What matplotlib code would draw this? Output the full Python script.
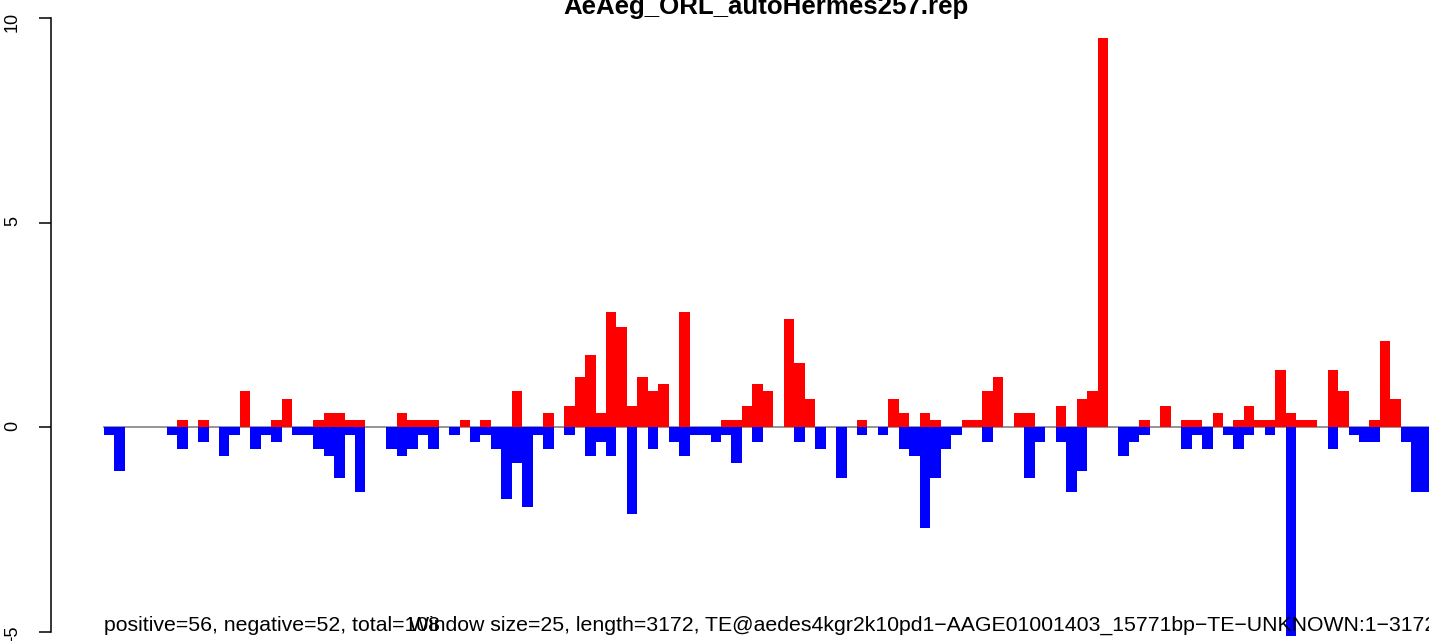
"""Strand-split coverage barplot for one TE consensus (25 bp windows)."""

import numpy as np
import matplotlib
matplotlib.use("Agg")
import matplotlib.pyplot as plt

plt.rcParams["font.family"] = ["Liberation Sans", "DejaVu Sans"]

TITLE = "AeAeg_ORL_autoHermes257.rep"
LEFT_NOTE = "positive=56, negative=52, total=108"
RIGHT_NOTE = ("Window size=25, length=3172, "
              "TE@aedes4kgr2k10pd1\u2212AAGE01001403_15771bp\u2212TE\u2212UNKNOWN:1\u22123172")

# one value per 25 bp window (127 windows)
positive = [
    0, 0, 0, 0, 0, 0, 0, 0.18, 0, 0.18,
    0, 0, 0, 0.88, 0, 0, 0.18, 0.70, 0, 0,
    0.18, 0.35, 0.35, 0.18, 0.18, 0, 0, 0, 0.35, 0.18,
    0.18, 0.18, 0, 0, 0.18, 0, 0.18, 0, 0, 0.88,
    0, 0, 0.35, 0, 0.53, 1.23, 1.76, 0.35, 2.82, 2.46,
    0.53, 1.23, 0.88, 1.06, 0, 2.82, 0, 0, 0, 0.18,
    0.18, 0.53, 1.06, 0.88, 0, 2.64, 1.58, 0.70, 0, 0,
    0, 0, 0.18, 0, 0, 0.70, 0.35, 0, 0.35, 0.18,
    0, 0, 0.18, 0.18, 0.88, 1.23, 0, 0.35, 0.35, 0,
    0, 0.53, 0, 0.70, 0.88, 9.50, 0, 0, 0, 0.18,
    0, 0.53, 0, 0.18, 0.18, 0, 0.35, 0, 0.18, 0.53,
    0.18, 0.18, 1.41, 0.35, 0.18, 0.18, 0, 1.41, 0.88, 0,
    0, 0.18, 2.11, 0.70, 0, 0, 0,
]
negative = [
    -0.18, -1.06, 0, 0, 0, 0, -0.18, -0.53, 0, -0.35,
    0, -0.70, -0.18, 0, -0.53, -0.18, -0.35, 0, -0.18, -0.18,
    -0.53, -0.70, -1.23, -0.18, -1.58, 0, 0, -0.53, -0.70, -0.53,
    -0.18, -0.53, 0, -0.18, 0, -0.35, -0.18, -0.53, -1.76, -0.88,
    -1.94, -0.18, -0.53, 0, -0.18, 0, -0.70, -0.35, -0.70, 0,
    -2.11, 0, -0.53, 0, -0.35, -0.70, -0.18, -0.18, -0.35, -0.18,
    -0.88, 0, -0.35, 0, 0, 0, -0.35, 0, -0.53, 0,
    -1.23, 0, -0.18, 0, -0.18, 0, -0.53, -0.70, -2.46, -1.23,
    -0.53, -0.18, 0, 0, -0.35, 0, 0, 0, -1.23, -0.35,
    0, -0.35, -1.58, -1.06, 0, 0, 0, -0.70, -0.35, -0.18,
    0, 0, 0, -0.53, -0.18, -0.53, 0, -0.18, -0.53, -0.18,
    0, -0.18, 0, -5.10, 0, 0, 0, -0.53, 0, -0.18,
    -0.35, -0.35, 0, 0, -0.35, -1.58, -1.58,
]
y_ticks = [-5, 0, 5, 10]
y_tick_labels = ["\u22125", "0", "5", "10"]

W, H = 1429, 641
X0_PX, BAR_PX = 104, 10.458        # left edge of first bar, bar width
ZERO_PX, UNIT_PX = 427.3, 40.93    # y pixel of 0, pixels per unit

fig = plt.figure(figsize=(W / 100, H / 100), dpi=100)
ax = fig.add_axes([0, 0, 1, 1])
ax.set_xlim(-X0_PX / BAR_PX, (W - X0_PX) / BAR_PX)
ax.set_ylim(-(H - ZERO_PX) / UNIT_PX, ZERO_PX / UNIT_PX)

idx = np.arange(len(positive))
ax.plot([0, len(positive)], [0, 0], color="#8c8c8c", lw=1.3, zorder=1)
ax.bar(idx, positive, width=1.0, align="edge", color="#ff0000",
       linewidth=0, antialiased=False, zorder=2)
ax.bar(idx, negative, width=1.0, align="edge", color="#0000ff",
       linewidth=0, antialiased=False, zorder=2)

# R-style left axis, sitting away from the bars
for side in ("top", "right", "bottom"):
    ax.spines[side].set_visible(False)
ax.spines["left"].set_position(("data", (51 - X0_PX) / BAR_PX))
ax.spines["left"].set_bounds(-5, 10)
ax.spines["left"].set_linewidth(1.1)
ax.set_xticks([])
ax.set_yticks(y_ticks)
ax.set_yticklabels(y_tick_labels)
ax.tick_params(axis="y", length=8.6, width=1.1, labelsize=13,
               labelrotation=90, pad=13)

ax.text((766 - X0_PX) / BAR_PX, (ZERO_PX - 14) / UNIT_PX, TITLE,
        ha="center", va="baseline", fontsize=18.6, fontweight="bold")
ax.text(0, -(631 - ZERO_PX) / UNIT_PX, LEFT_NOTE,
        ha="left", va="baseline", fontsize=15.3)
ax.text(len(positive) + 0.4, -(631 - ZERO_PX) / UNIT_PX, RIGHT_NOTE,
        ha="right", va="baseline", fontsize=15.3)

fig.savefig("out.png", dpi=100)
